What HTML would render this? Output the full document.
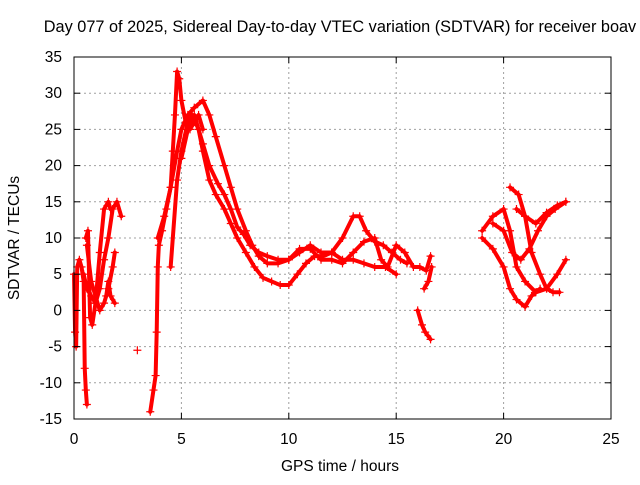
<!DOCTYPE html>
<html><head><meta charset="utf-8"><style>
body{margin:0;background:#fff}
svg text{font-family:"Liberation Sans",sans-serif;font-size:15.5px;fill:#000}
</style></head><body>
<svg width="640" height="480" viewBox="0 0 640 480">
<rect width="640" height="480" fill="#fff"/>
<g id="grid"></g>
<g id="series"></g>
<rect x="74" y="57" width="537" height="362" fill="none" stroke="#000" stroke-width="1"/>
<g id="ticks"></g>
<text x="340" y="32" text-anchor="middle" style="font-size:16.3px">Day 077 of 2025, Sidereal Day-to-day VTEC variation (SDTVAR) for receiver boav</text>
<text x="340" y="471" text-anchor="middle">GPS time / hours</text>
<text x="0" y="0" text-anchor="middle" transform="translate(19,238) rotate(-90)">SDTVAR / TECUs</text>
</svg>
<script>
const xTicks=[0,5,10,15,20,25];
const yTicks=[-15,-10,-5,0,5,10,15,20,25,30,35];
const s1=[[0,5],[0.05,-3],[0.1,-5],[0.15,6],[0.25,7],[0.35,6],[0.45,4],[0.5,-8],[0.55,-11],[0.6,-13]];
const s2=[[0.55,10],[0.65,11],[0.75,-1],[0.85,-2],[1.0,1],[1.2,8],[1.4,14],[1.6,15],[1.7,14]];
const s3=[[0.45,5],[0.6,3],[0.8,2],[1.0,1],[1.2,3],[1.4,7],[1.6,10],[1.8,14],[2.0,15],[2.2,13]];
const s4=[[0.6,9],[0.8,4],[1.0,2],[1.2,0],[1.4,1],[1.6,3],[1.8,6],[1.9,8]];
const s5=[[1.5,2],[1.6,4],[1.7,2],[1.9,1]];
const s6=[[2.95,-5.5]];
const s7=[[3.55,-14],[3.7,-11],[3.8,-9],[3.85,-3],[3.9,6],[3.95,9],[4.1,11],[4.3,14],[4.5,17],[4.6,22],[4.7,27],[4.8,33],[4.9,32],[5.0,29],[5.2,26],[5.4,25],[5.6,26],[5.8,27],[6.0,25]];
const s8=[[3.9,10],[4.2,13],[4.5,17],[4.8,22],[5.0,25],[5.3,27],[5.6,28],[6.0,29],[6.3,27],[6.6,24],[7.0,20],[7.3,17],[7.6,14],[8.0,11],[8.3,9],[8.6,7.5],[9.0,6.5],[9.5,6.5],[10.0,7],[10.5,8],[11.0,9],[11.5,8],[12.0,8],[12.5,10],[13.0,13],[13.3,13],[13.6,11],[14.0,9.5],[14.4,9],[14.8,8],[15.2,7],[15.5,6.5]];
const s9=[[4.5,6],[4.8,18],[5.0,22],[5.3,26],[5.5,27],[5.8,25],[6.0,22],[6.3,18],[6.6,16],[7.0,14],[7.3,12],[7.6,10],[8.0,8],[8.4,6],[8.8,4.5],[9.2,4],[9.6,3.5],[10.0,3.5],[10.4,5],[10.8,6.5],[11.2,7.5],[11.6,7.5],[12.0,8],[12.5,7],[13.0,7],[13.5,6.5],[14.0,6],[14.5,6],[15.0,5]];
const s10=[[5.0,21],[5.3,25],[5.6,27],[6.0,23],[6.3,20],[6.7,17.5],[7.0,16],[7.3,14],[7.6,11.5],[7.9,10.5],[8.2,9],[8.6,8],[9.0,7.5],[9.5,7],[10.0,7],[10.5,8.5],[11.0,8.5],[11.5,7],[12.0,7],[12.5,6.5],[13.0,8],[13.5,9.5],[14.0,10],[14.3,7],[14.6,6],[15.0,9],[15.4,8],[15.8,6],[16.1,6],[16.4,5.5],[16.6,7.5]];
const s11=[[16.0,0],[16.2,-2],[16.35,-3],[16.6,-4]];
const s12=[[16.3,3],[16.5,4],[16.65,6]];
const s13=[[19.0,11],[19.5,13],[20.0,14],[20.3,11],[20.6,6],[21.0,4],[21.5,2.5],[22.0,3],[22.5,5],[22.9,7]];
const s14=[[20.3,17],[20.7,16],[21.0,13],[21.3,8],[21.7,5],[22.0,3],[22.3,2.5],[22.6,2.5]];
const s15=[[19.0,10],[19.5,8.5],[20.0,6],[20.3,3],[20.6,1.5],[21.0,0.5],[21.3,2],[21.7,3]];
const s16=[[19.5,12],[20.0,11],[20.4,8],[20.8,7],[21.2,8.5],[21.6,11],[22.0,13],[22.4,14],[22.9,15]];
const s17=[[20.6,14],[21.0,13],[21.5,12],[22.0,13.5],[22.5,14.5],[22.9,15]];
const allSeries=[s1,s2,s3,s4,s5,s6,s7,s8,s9,s10,s11,s12,s13,s14,s15,s16,s17];
const X0=74,X1=611,Y0=419,Y1=57;
const xs=v=>X0+(v-0)/(25-0)*(X1-X0);
const ys=v=>Y0-(v+15)/(35+15)*(Y0-Y1);
const NS="http://www.w3.org/2000/svg";
const grid=document.getElementById('grid'),ticks=document.getElementById('ticks'),ser=document.getElementById('series');
function mk(t,a,p){const e=document.createElementNS(NS,t);for(const k in a)e.setAttribute(k,a[k]);p.appendChild(e);return e;}
xTicks.forEach(v=>{const x=xs(v);
 if(v>0&&v<25){const g=mk('line',{x1:x,x2:x,y1:Y1,y2:Y0,stroke:'#a0a0a0','stroke-dasharray':'2,3'},grid);
 
 }
 mk('line',{x1:x,x2:x,y1:Y0,y2:Y0-6,stroke:'#000'},ticks);
 mk('line',{x1:x,x2:x,y1:Y1,y2:Y1+6,stroke:'#000'},ticks);
 const t=mk('text',{x:x,y:444,'text-anchor':'middle'},ticks);t.textContent=v;
 
 });
yTicks.forEach(v=>{const y=ys(v);
 if(v>-15&&v<35){const g=mk('line',{x1:X0,x2:X1,y1:y,y2:y,stroke:'#a0a0a0','stroke-dasharray':'2,3'},grid);
 
 }
 mk('line',{x1:X0,x2:X0+6,y1:y,y2:y,stroke:'#000'},ticks);
 mk('line',{x1:X1,x2:X1-6,y1:y,y2:y,stroke:'#000'},ticks);
 const t=mk('text',{x:62,y:y+5,'text-anchor':'end'},ticks);t.textContent=v;
 
 });
allSeries.forEach((s,i)=>{
 if(s.length>1){const pl=mk('polyline',{points:s.map(p=>xs(p[0])+','+ys(p[1])).join(' '),fill:'none',stroke:'#ff0000','stroke-width':4,'stroke-linejoin':'round','stroke-linecap':'round'},ser);
 
 }
 s.forEach(p=>{const x=xs(p[0]),y=ys(p[1]);
  const m=mk('path',{d:`M${x-4},${y}H${x+4}M${x},${y-4}V${y+4}`,stroke:'#ff0000','stroke-width':1.2},ser);
  
  });
});
</script>
</body></html>
